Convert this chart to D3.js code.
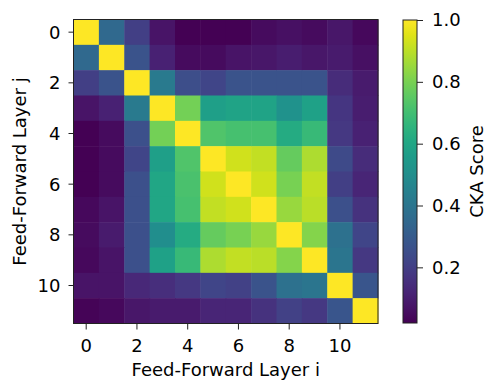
<!DOCTYPE html>
<html>
<head>
<meta charset="utf-8">
<script src="https://cdn.jsdelivr.net/npm/d3@7"></script>
<style>
  body { margin: 0; background: #fff; }
  text { font-family: "DejaVu Sans", sans-serif; fill: #000; }
</style>
</head>
<body>
<div class="chart"></div>
<script>
// Layer indices and tick labels
var layers = d3.range(12);
var axisTicks = [0, 2, 4, 6, 8, 10];
var colorTicks = [0.2, 0.4, 0.6, 0.8, 1.0];

// CKA scores, row j (top to bottom), column i (left to right)
var row0 = [1.00, 0.35, 0.20, 0.07, 0.02, 0.02, 0.02, 0.05, 0.06, 0.05, 0.08, 0.04];
var row1 = [0.35, 1.00, 0.27, 0.11, 0.05, 0.05, 0.07, 0.08, 0.10, 0.08, 0.09, 0.06];
var row2 = [0.20, 0.27, 1.00, 0.42, 0.25, 0.22, 0.27, 0.27, 0.27, 0.27, 0.14, 0.09];
var row3 = [0.07, 0.11, 0.42, 1.00, 0.79, 0.57, 0.59, 0.59, 0.52, 0.58, 0.17, 0.10];
var row4 = [0.02, 0.05, 0.26, 0.79, 1.00, 0.73, 0.71, 0.71, 0.62, 0.68, 0.18, 0.11];
var row5 = [0.02, 0.05, 0.22, 0.57, 0.73, 1.00, 0.93, 0.91, 0.77, 0.88, 0.24, 0.14];
var row6 = [0.02, 0.05, 0.26, 0.60, 0.72, 0.93, 1.00, 0.93, 0.80, 0.91, 0.20, 0.12];
var row7 = [0.04, 0.07, 0.26, 0.60, 0.71, 0.91, 0.93, 1.00, 0.85, 0.90, 0.26, 0.16];
var row8 = [0.05, 0.09, 0.26, 0.50, 0.62, 0.77, 0.80, 0.85, 1.00, 0.82, 0.38, 0.22];
var row9 = [0.04, 0.07, 0.26, 0.58, 0.68, 0.88, 0.91, 0.90, 0.82, 1.00, 0.40, 0.18];
var row10 = [0.07, 0.07, 0.13, 0.15, 0.18, 0.22, 0.21, 0.27, 0.38, 0.40, 1.00, 0.28];
var row11 = [0.03, 0.04, 0.08, 0.09, 0.09, 0.12, 0.12, 0.16, 0.21, 0.18, 0.28, 1.00];
var scores = [row0, row1, row2, row3, row4, row5, row6, row7, row8, row9, row10, row11];

var svgWidth = 498;
var svgHeight = 392;
var fontSize = "18px";

var svg = d3.select(".chart")
  .append("svg")
  .attr("width", svgWidth)
  .attr("height", svgHeight);

// Heatmap scales
var xScale = d3.scaleBand().domain(layers).range([73.5, 378]).padding(0);
var yScale = d3.scaleBand().domain(layers).range([19.5, 323.5]).padding(0);

var vMin = d3.min(scores, function (r) { return d3.min(r); });
var color = d3.scaleSequential(d3.interpolateViridis).domain([vMin, 1]);

// flatten into cells
var cells = [];
scores.forEach(function (r, j) {
  r.forEach(function (v, i) {
    cells.push({ i: i, j: j, v: v });
  });
});

svg.append("g")
  .selectAll("rect")
  .data(cells)
  .enter()
  .append("rect")
  .attr("x", function (d) { return xScale(d.i); })
  .attr("y", function (d) { return yScale(d.j); })
  .attr("width", xScale.bandwidth() + 0.5)
  .attr("height", yScale.bandwidth() + 0.5)
  .attr("fill", function (d) { return color(d.v); });

// frame
svg.append("rect")
  .attr("x", xScale.range()[0])
  .attr("y", yScale.range()[0])
  .attr("width", xScale.range()[1] - xScale.range()[0])
  .attr("height", yScale.range()[1] - yScale.range()[0])
  .attr("fill", "none")
  .attr("stroke", "#222")
  .attr("stroke-width", 1);

// Axes
var xAxis = d3.axisBottom(xScale).tickValues(axisTicks).tickSize(6).tickPadding(9.5);
var yAxis = d3.axisLeft(yScale).tickValues(axisTicks).tickSize(5).tickPadding(8);

var gx = svg.append("g")
  .attr("transform", "translate(0," + yScale.range()[1] + ")")
  .call(xAxis);
var gy = svg.append("g")
  .attr("transform", "translate(" + xScale.range()[0] + ",0)")
  .call(yAxis);

[gx, gy].forEach(function (g) {
  g.select(".domain").remove();
  g.selectAll("line").attr("stroke", "#222");
  g.selectAll("text")
    .style("font-family", "DejaVu Sans, sans-serif")
    .style("font-size", fontSize)
    .attr("fill", "#000");
});
gy.selectAll("text").attr("dy", "0.36em");

// Axis labels
svg.append("text")
  .attr("x", (xScale.range()[0] + xScale.range()[1]) / 2)
  .attr("y", 375.5)
  .attr("text-anchor", "middle")
  .style("font-size", fontSize)
  .text("Feed-Forward Layer i");

svg.append("text")
  .attr("transform", "translate(26," + (yScale.range()[0] + yScale.range()[1]) / 2 + ") rotate(-90)")
  .attr("text-anchor", "middle")
  .style("font-size", fontSize)
  .text("Feed-Forward Layer j");

// Colorbar
var cbX = 403, cbW = 14, cbTop = 20, cbBottom = 323;
var cbScale = d3.scaleLinear().domain([vMin, 1]).range([cbBottom, cbTop]);

var defs = svg.append("defs");
var grad = defs.append("linearGradient")
  .attr("id", "cbGrad")
  .attr("x1", "0").attr("y1", "1").attr("x2", "0").attr("y2", "0");
d3.range(0, 1.0001, 0.05).forEach(function (t) {
  grad.append("stop")
    .attr("offset", t)
    .attr("stop-color", color(vMin + t * (1 - vMin)));
});

svg.append("rect")
  .attr("x", cbX)
  .attr("y", cbTop)
  .attr("width", cbW)
  .attr("height", cbBottom - cbTop)
  .attr("fill", "url(#cbGrad)")
  .attr("stroke", "#222")
  .attr("stroke-width", 1);

var cbAxis = d3.axisRight(cbScale).tickValues(colorTicks).tickFormat(d3.format(".1f")).tickSize(6).tickPadding(9);
var gc = svg.append("g")
  .attr("transform", "translate(" + (cbX + cbW) + ",0)")
  .call(cbAxis);
gc.select(".domain").remove();
gc.selectAll("line").attr("stroke", "#222");
gc.selectAll("text")
  .style("font-family", "DejaVu Sans, sans-serif")
  .style("font-size", fontSize)
  .attr("fill", "#000");

svg.append("text")
  .attr("transform", "translate(483," + (cbTop + cbBottom) / 2 + ") rotate(-90)")
  .attr("text-anchor", "middle")
  .style("font-size", fontSize)
  .text("CKA Score");
</script>
</body>
</html>
